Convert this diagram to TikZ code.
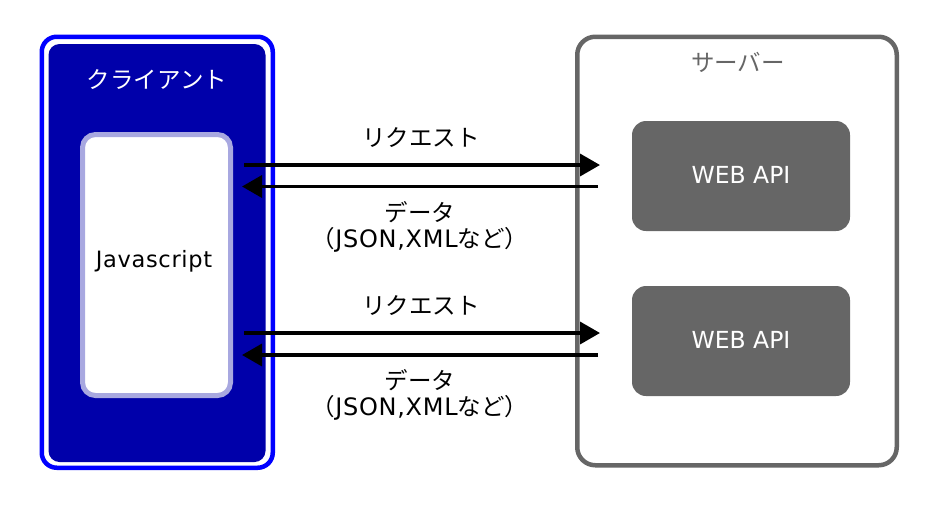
\documentclass[tikz,border=0pt]{standalone}
\usepackage{fontspec}
\setmainfont{DejaVu Sans}
\newfontfamily\latsp[LetterSpace=3]{DejaVu Sans}
\newfontfamily\cjk{Noto Sans CJK JP}
\usetikzlibrary{arrows.meta}
\definecolor{outerblue}{HTML}{0000FF}
\definecolor{darkblue}{HTML}{0000AA}
\definecolor{lav}{HTML}{A8A8E0}
\definecolor{srvgray}{HTML}{666666}
\tikzset{
  jp/.style={font=\cjk\fontsize{23.5}{28}\selectfont, inner sep=0pt},
  lat/.style={font=\latsp\fontsize{22.5}{26}\selectfont, inner sep=0pt},
  apibox/.style={fill=srvgray, draw=none, rounded corners=14pt, minimum width=218pt, minimum height=110pt, text=white, font=\fontsize{23.5}{28}\selectfont},
  flow/.style={line width=3.5pt, -{Triangle[length=20pt,width=22pt]}},
}
\begin{document}
\begin{tikzpicture}[x=1pt,y=-1pt]
\useasboundingbox (0,0) rectangle (940,507);
% client
\draw[outerblue, line width=4.5pt, rounded corners=15pt] (41.75,36.75) rectangle (272.75,467.75);
\fill[darkblue, rounded corners=11pt] (48.5,44) rectangle (265.5,462);
\node[jp, text=white] (client) at (157,80) {クライアント};
\draw[lav, fill=white, line width=5pt, rounded corners=13pt] (82.5,134.5) rectangle (230.5,395.5);
\node[lat] (js) at (154,261) {Javascript};
% server
\draw[srvgray, line width=4.5pt, rounded corners=18pt] (577.25,36.75) rectangle (896.75,465.25);
\node[jp, text=srvgray] (server) at (738,62) {サーバー};
\node[apibox] (api1) at (741,176) {\raisebox{1.5pt}{WEB API}};
\node[apibox] (api2) at (741,341) {\raisebox{1.5pt}{WEB API}};
% arrows
\coordinate (r1s) at (244,165);
\coordinate (r1e) at (600,165);
\coordinate (d1s) at (598,186.5);
\coordinate (d1e) at (242,186.5);
\coordinate (r2s) at (244,333);
\coordinate (r2e) at (600,333);
\coordinate (d2s) at (598,355);
\coordinate (d2e) at (242,355);
\draw[flow] (r1s) -- (r1e);
\draw[flow] (d1s) -- (d1e);
\draw[flow] (r2s) -- (r2e);
\draw[flow] (d2s) -- (d2e);
% labels
\node[jp] (req1) at (421,138) {リクエスト};
\node[jp] (dat1) at (420,212) {データ};
\node[jp, font=\latsp\fontsize{24}{28}\selectfont] (fmt1) at (420,240) {{\cjk\fontsize{23.5}{28}\selectfont （}JSON,XML{\cjk\fontsize{23.5}{28}\selectfont など）}};
\node[jp] (req2) at (421,306) {リクエスト};
\node[jp] (dat2) at (420,380) {データ};
\node[jp, font=\latsp\fontsize{24}{28}\selectfont] (fmt2) at (420,408) {{\cjk\fontsize{23.5}{28}\selectfont （}JSON,XML{\cjk\fontsize{23.5}{28}\selectfont など）}};
\end{tikzpicture}
\end{document}
